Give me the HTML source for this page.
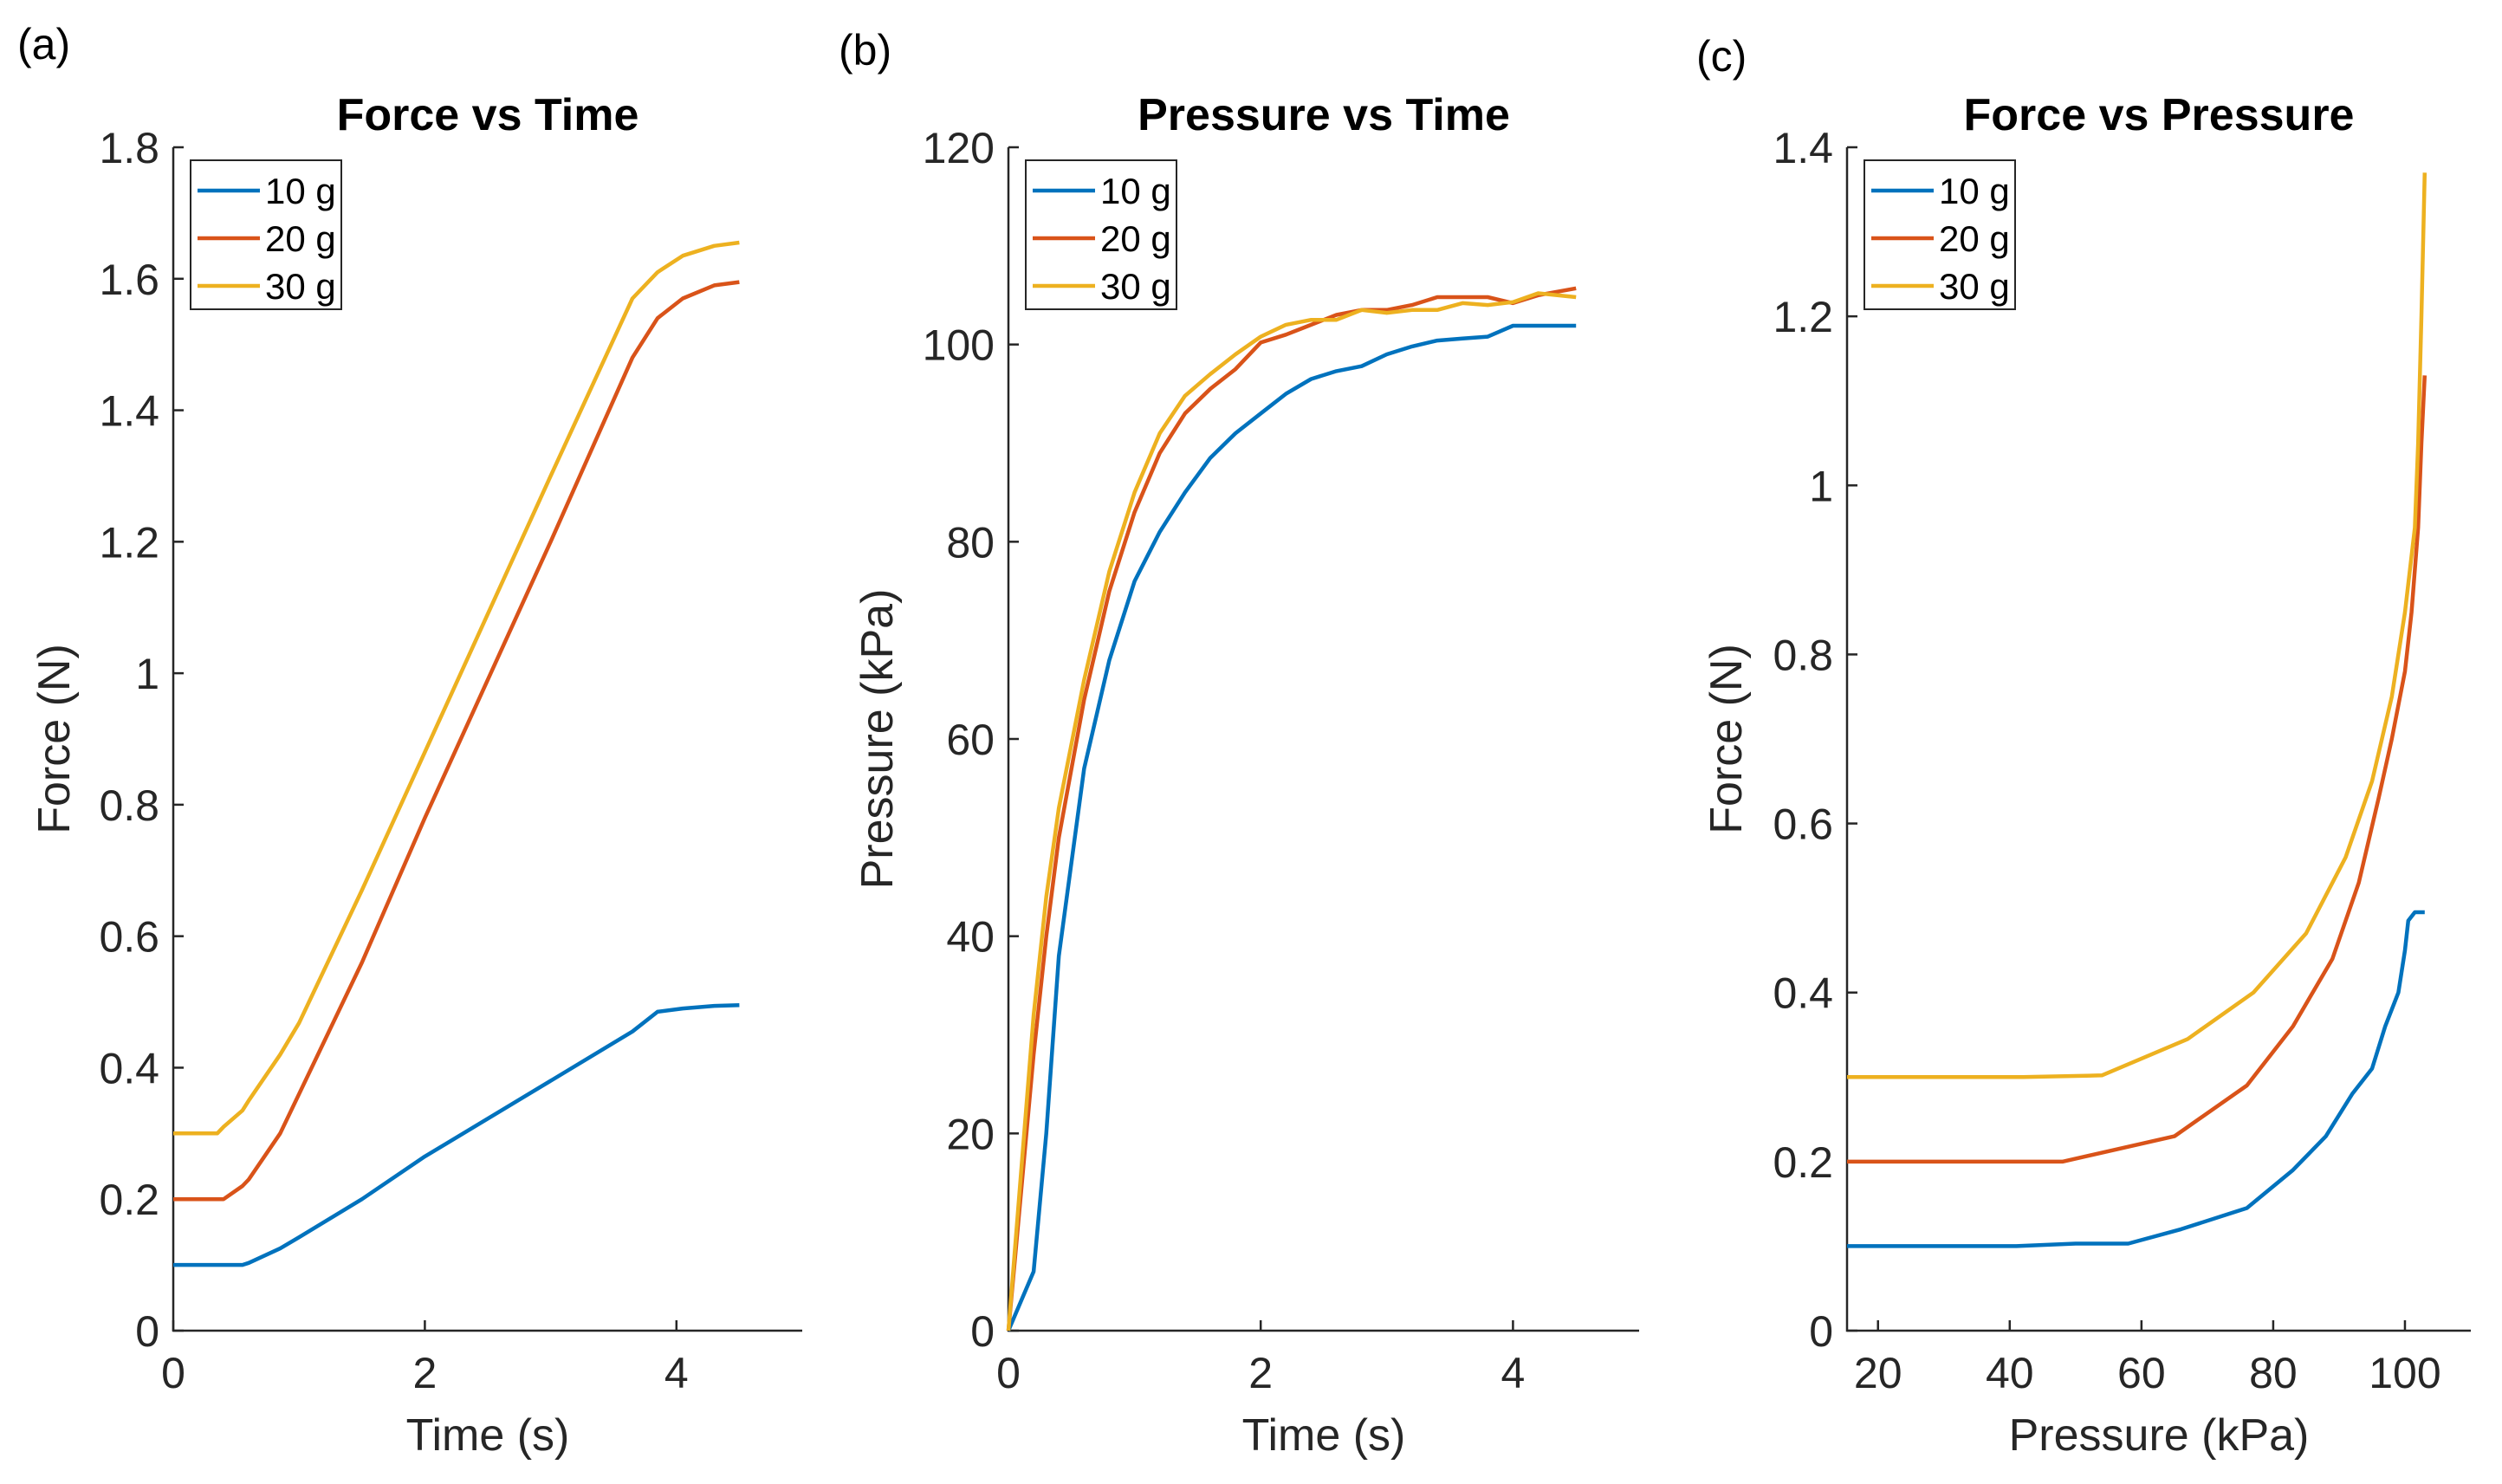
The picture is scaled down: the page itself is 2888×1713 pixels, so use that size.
<!DOCTYPE html>
<html><head><meta charset="utf-8"><style>
html,body{margin:0;padding:0;background:#fff;}
svg{display:block;font-family:"Liberation Sans",sans-serif;}
</style></head><body>
<svg id="fig" width="2888" height="1713" viewBox="0 0 2888 1713"></svg>
<script>
// Panel (a) Force vs Time
const timeA = [0,0.35,0.4,0.55,0.6,0.85,1.0,1.5,2.0,3.0,3.65,3.85,4.05,4.3,4.5];
const forceA10 = [0.1,0.1,0.1,0.1,0.103,0.125,0.142,0.2,0.265,0.38,0.455,0.485,0.49,0.494,0.495];
const forceA20 = [0.2,0.2,0.2,0.22,0.23,0.3,0.36,0.56,0.78,1.2,1.48,1.54,1.57,1.59,1.595];
const forceA30 = [0.3,0.3,0.31,0.335,0.35,0.42,0.468,0.67,0.88,1.3,1.57,1.61,1.635,1.65,1.655];
// Panel (b) Pressure vs Time
const timeB = [0,0.2,0.3,0.4,0.6,0.8,1.0,1.2,1.4,1.6,1.8,2.0,2.2,2.4,2.6,2.8,3.0,3.2,3.4,3.6,3.8,4.0,4.2,4.5];
const presB10 = [0,6,20,38,57,68,76,81,85,88.5,91,93,95,96.5,97.3,97.8,99,99.8,100.4,100.6,100.8,101.9,101.9,101.9];
const presB20 = [0,28,40,50,64,75,83,89,93,95.5,97.5,100.2,101,102,103,103.5,103.5,104,104.8,104.8,104.8,104.2,105,105.7];
const presB30 = [0,32,44,53,66,77,85,91,94.8,97,99,100.8,102,102.5,102.5,103.5,103.2,103.5,103.5,104.2,104,104.3,105.2,104.8];
// Panel (c) Force vs Pressure
const presC10 = [15.3,41,50,58,66,76,83,88,92,95,97,99,100,100.5,101.5,103];
const forceC10 = [0.1,0.1,0.103,0.103,0.12,0.145,0.19,0.23,0.28,0.31,0.36,0.4,0.45,0.485,0.495,0.495];
const presC20 = [15.3,48,65,76,83,89,93,96,98,100,101,102,102.5,103];
const forceC20 = [0.2,0.2,0.23,0.29,0.36,0.44,0.53,0.63,0.7,0.78,0.85,0.95,1.05,1.13];
const presC30 = [15.3,42,54,67,77,85,91,95,98,100,101.5,102,102.5,103];
const forceC30 = [0.3,0.3,0.302,0.345,0.4,0.47,0.56,0.65,0.75,0.85,0.95,1.05,1.2,1.37];
const seriesLabels = ["10 g","20 g","30 g"];
const colors = ["#0072BD","#D95319","#EDB120"];
const ticksA_x = [0,2,4], ticksA_y = [0,0.2,0.4,0.6,0.8,1,1.2,1.4,1.6,1.8];
const ticksB_x = [0,2,4], ticksB_y = [0,20,40,60,80,100,120];
const ticksC_x = [20,40,60,80,100], ticksC_y = [0,0.2,0.4,0.6,0.8,1,1.2,1.4];

const NS="http://www.w3.org/2000/svg";
const svg=document.getElementById('fig');
function mk(tag,attrs,parent){const e=document.createElementNS(NS,tag);for(const k in attrs)e.setAttribute(k,attrs[k]);(parent||svg).appendChild(e);return e;}

function panel(id,cfg){
  const g=mk('g',{});
  
  
  const {x0,x1,y0,y1,xmin,xmax,ymin,ymax}=cfg;
  const sx=v=>x0+(v-xmin)/(xmax-xmin)*(x1-x0);
  const sy=v=>y0-(v-ymin)/(ymax-ymin)*(y0-y1);
  const ax=mk('path',{d:`M${x0},${y1} L${x0},${y0} L${x1},${y0}`,fill:'none',stroke:'#262626','stroke-width':2.5},g);
  
  
  cfg.xt.forEach(v=>{
    mk('line',{x1:sx(v),x2:sx(v),y1:y0,y2:y0-12,stroke:'#262626','stroke-width':2.5},g);
    const t=mk('text',{x:sx(v),y:y0+66,'font-size':50,fill:'#262626','text-anchor':'middle'},g);
    t.textContent=String(v);
    
    
  });
  cfg.yt.forEach(v=>{
    mk('line',{x1:x0,x2:x0+12,y1:sy(v),y2:sy(v),stroke:'#262626','stroke-width':2.5},g);
    const t=mk('text',{x:x0-16,y:sy(v)+18,'font-size':50,fill:'#262626','text-anchor':'end'},g);
    t.textContent=String(v);
    
    
  });
  cfg.series.forEach((s,i)=>{
    const d=s.x.map((v,j)=>(j?'L':'M')+sx(v).toFixed(1)+','+sy(s.y[j]).toFixed(1)).join(' ');
    const p=mk('path',{d,fill:'none',stroke:colors[i],'stroke-width':4.5,'stroke-linejoin':'round'},g);
    
    
  });
  const tt=mk('text',{x:(x0+x1)/2,y:cfg.ty,'font-size':52,'font-weight':'bold',fill:'#000','text-anchor':'middle'},g);
  tt.textContent=cfg.title;
  
  
  const xl=mk('text',{x:(x0+x1)/2,y:y0+138,'font-size':52,fill:'#262626','text-anchor':'middle'},g);
  xl.textContent=cfg.xlabel;
  
  
  const yl=mk('text',{x:0,y:0,'font-size':52,fill:'#262626','text-anchor':'middle',transform:`translate(${cfg.ylx},${(y0+y1)/2}) rotate(-90)`},g);
  yl.textContent=cfg.ylabel;
  
  
  const lx=x0+20, ly=y1+15;
  const lg=mk('g',{},g);
  
  
  mk('rect',{x:lx,y:ly,width:174,height:172,fill:'#fff',stroke:'#262626','stroke-width':2},lg);
  seriesLabels.forEach((lab,i)=>{
    const yy=ly+35+i*55;
    mk('line',{x1:lx+8,x2:lx+80,y1:yy,y2:yy,stroke:colors[i],'stroke-width':4.5},lg);
    const t=mk('text',{x:lx+86,y:yy+15,'font-size':42,fill:'#000'},lg);
    t.textContent=lab;
    
    
  });
  const pl=mk('text',{x:cfg.plx,y:cfg.ply,'font-size':50,fill:'#000'},g);
  pl.textContent=cfg.letter;
  
  
}

panel('force-time',{x0:200,x1:926,y0:1536,y1:170,xmin:0,xmax:5,ymin:0,ymax:1.8,xt:ticksA_x,yt:ticksA_y,
  series:[{x:timeA,y:forceA10},{x:timeA,y:forceA20},{x:timeA,y:forceA30}],
  title:'Force vs Time',ty:150,xlabel:'Time (s)',ylabel:'Force (N)',ylx:80,letter:'(a)',plx:20,ply:68});
panel('pressure-time',{x0:1164,x1:1892,y0:1536,y1:170,xmin:0,xmax:5,ymin:0,ymax:120,xt:ticksB_x,yt:ticksB_y,
  series:[{x:timeB,y:presB10},{x:timeB,y:presB20},{x:timeB,y:presB30}],
  title:'Pressure vs Time',ty:150,xlabel:'Time (s)',ylabel:'Pressure (kPa)',ylx:1030,letter:'(b)',plx:968,ply:75});
panel('force-pressure',{x0:2132,x1:2852,y0:1536,y1:170,xmin:15.3,xmax:110,ymin:0,ymax:1.4,xt:ticksC_x,yt:ticksC_y,
  series:[{x:presC10,y:forceC10},{x:presC20,y:forceC20},{x:presC30,y:forceC30}],
  title:'Force vs Pressure',ty:150,xlabel:'Pressure (kPa)',ylabel:'Force (N)',ylx:2010,letter:'(c)',plx:1958,ply:82});
</script>
</body></html>
